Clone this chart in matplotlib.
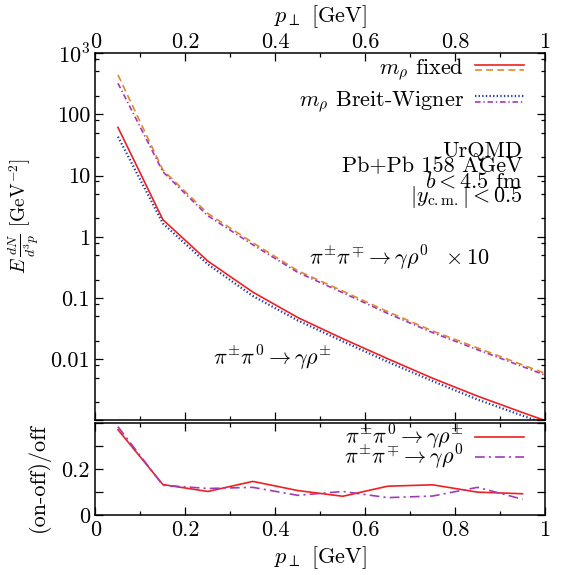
import numpy as np
import matplotlib
matplotlib.use("Agg")
import matplotlib.pyplot as plt
from matplotlib.ticker import FixedLocator, FuncFormatter, NullFormatter
from matplotlib.legend_handler import HandlerBase
from matplotlib.lines import Line2D

# ------------------------------
# data
# ------------------------------
pt = [0.05, 0.15, 0.25, 0.35, 0.45, 0.55, 0.65, 0.75, 0.85, 0.95, 1.05]

# pi+- pi0 -> gamma rho+-
chg_fixed = [61, 1.9, 0.40, 0.125, 0.048, 0.0217, 0.0102, 0.0049, 0.0025, 0.00135, 0.00074]
chg_bw = [43, 1.65, 0.355, 0.108, 0.043, 0.0196, 0.0091, 0.0044, 0.0022, 0.0012, 0.00066]

# pi+- pi-+ -> gamma rho0  (x10)
neu_fixed = [439, 12.3, 2.4, 0.80, 0.279, 0.130, 0.060, 0.029, 0.0153, 0.0081, 0.0043]
neu_bw = [321, 11.5, 2.2, 0.74, 0.262, 0.122, 0.056, 0.0272, 0.0143, 0.0076, 0.0040]

# ratio panel
pt_r = [0.05, 0.15, 0.25, 0.35, 0.45, 0.55, 0.65, 0.75, 0.85, 0.95]
ratio_chg = [0.373, 0.133, 0.103, 0.147, 0.107, 0.082, 0.126, 0.132, 0.100, 0.093]
ratio_neu = [0.386, 0.130, 0.116, 0.121, 0.086, 0.103, 0.076, 0.083, 0.121, 0.069]

y_ticks = [1e-3, 1e-2, 1e-1, 1, 10, 100, 1e3]
y_labels = ["", "0.01", "0.1", "1", "10", "100", "$10^3$"]

plt.rcParams["font.family"] = "serif"
plt.rcParams["font.serif"] = ["cmr10"]
plt.rcParams["mathtext.fontset"] = "cm"
plt.rcParams["axes.unicode_minus"] = False
plt.rcParams["axes.formatter.use_mathtext"] = True
plt.rcParams["lines.scale_dashes"] = False

RED = "#ee2020"
ORANGE = "#e38a2a"
BLUE = "#2a3aa8"
PURPLE = "#a23ab8"
FS = 16


class PairHandler(HandlerBase):
    # two sample lines stacked closely, like the gnuplot key
    def __init__(self, offsets):
        super().__init__()
        self.offsets = offsets

    def create_artists(self, legend, orig_handle, xdescent, ydescent,
                       width, height, fontsize, trans):
        arts = []
        y0 = height / 2 - ydescent
        for h, dy in zip(orig_handle, self.offsets):
            ln = Line2D([0, 1], [0, 1])
            ln.update_from(h)
            ln.set_data([-xdescent, width - xdescent], [y0 + dy * height] * 2)
            ln.set_transform(trans)
            arts.append(ln)
        return arts


fig = plt.figure(figsize=(5.64, 5.75), dpi=100)
ax = fig.add_axes([0.1693, 0.2687, 0.797, 0.6391])
axr = fig.add_axes([0.1693, 0.1043, 0.797, 0.1592])

# ==============================
# top panel: spectra
# ==============================
l_cf, = ax.plot(pt, chg_fixed, color=RED, lw=1.2, ls="-")
l_cb, = ax.plot(pt, chg_bw, color=BLUE, lw=1.6, ls=(0, (1, 1.6)))
l_nf, = ax.plot(pt, neu_fixed, color=ORANGE, lw=1.2, ls=(0, (5, 3)))
l_nb, = ax.plot(pt, neu_bw, color=PURPLE, lw=1.2, ls=(0, (4, 2, 1, 2)))

ax.set_yscale("log")
ax.set_xlim(0, 1)
ax.set_ylim(1e-3, 1e3)
ax.yaxis.set_major_locator(FixedLocator(y_ticks))
ax.yaxis.set_major_formatter(FuncFormatter(lambda v, p: y_labels[y_ticks.index(v)] if v in y_ticks else ""))
ax.yaxis.set_minor_locator(FixedLocator([m * 10.0 ** k for k in range(-3, 3) for m in (2, 5, 8)]))
ax.yaxis.set_minor_formatter(NullFormatter())
ax.xaxis.set_major_locator(FixedLocator([0, 0.2, 0.4, 0.6, 0.8, 1.0]))
ax.xaxis.set_minor_locator(FixedLocator([0.1, 0.3, 0.5, 0.7, 0.9]))
ax.xaxis.set_major_formatter(FuncFormatter(lambda v, p: "%g" % v))
ax.tick_params(which="both", direction="in", top=True, right=True,
               labeltop=True, labelbottom=False, labelsize=FS, width=0.9)
ax.tick_params(which="major", length=6, pad=4)
ax.tick_params(axis="x", which="major", pad=1)
ax.tick_params(which="minor", length=3)
ax.xaxis.set_label_position("top")
ax.set_xlabel(r"$p_\perp$ [GeV]", fontsize=FS, labelpad=7)
ax.set_ylabel(r"$E\,\frac{dN}{d^3p}$ [GeV$^{-2}$]", fontsize=14)
ax.yaxis.set_label_coords(-0.12, 0.556)

leg = ax.legend([(l_cf, l_nf), (l_cb, l_nb)],
                [r"$m_\rho$ fixed", r"$m_\rho$ Breit-Wigner"],
                handler_map={tuple: PairHandler((0.08, -0.28))},
                loc="upper right", bbox_to_anchor=(0.953, 0.99),
                frameon=False, markerfirst=False, fontsize=FS,
                handlelength=2.2, handletextpad=0.5, labelspacing=0.3,
                borderpad=0, borderaxespad=0)

ax.text(0.95, 0.734, "UrQMD", transform=ax.transAxes, ha="right", va="center", fontsize=FS)
ax.text(0.95, 0.692, "Pb+Pb 158 AGeV", transform=ax.transAxes, ha="right", va="center", fontsize=FS)
ax.text(0.95, 0.651, r"$b<4.5$ fm", transform=ax.transAxes, ha="right", va="center", fontsize=FS)
ax.text(0.95, 0.608, r"$|y_{\rm c.m.}|<0.5$", transform=ax.transAxes, ha="right", va="center", fontsize=FS)
ax.text(0.878, 0.442, r"$\pi^{\pm}\pi^{\mp}\rightarrow\gamma\rho^0\ \ \times 10$",
        transform=ax.transAxes, ha="right", va="center", fontsize=FS)
ax.text(0.261, 0.170, r"$\pi^{\pm}\pi^{0}\rightarrow\gamma\rho^{\pm}$",
        transform=ax.transAxes, ha="left", va="center", fontsize=FS)

# ==============================
# bottom panel: (on-off)/off
# ==============================
r1, = axr.plot(pt_r, ratio_chg, color=RED, lw=1.2, ls="-")
r2, = axr.plot(pt_r, ratio_neu, color=PURPLE, lw=1.2, ls=(0, (7, 3, 1.5, 3)))
axr.set_xlim(0, 1)
axr.set_ylim(0, 0.4)
axr.yaxis.set_major_locator(FixedLocator([0, 0.1, 0.2, 0.3, 0.4]))
axr.yaxis.set_major_formatter(FuncFormatter(lambda v, p: {0: "0", 2: "0.2"}.get(int(round(v * 10)), "")))
axr.xaxis.set_major_locator(FixedLocator([0, 0.2, 0.4, 0.6, 0.8, 1.0]))
axr.xaxis.set_minor_locator(FixedLocator([0.1, 0.3, 0.5, 0.7, 0.9]))
axr.xaxis.set_major_formatter(FuncFormatter(lambda v, p: "%g" % v))
axr.tick_params(which="both", direction="in", top=True, right=True, labelsize=FS, width=0.9)
axr.tick_params(which="major", length=6, pad=4)
axr.tick_params(which="minor", length=3)
axr.set_xlabel(r"$p_\perp$ [GeV]", fontsize=FS, labelpad=3)
axr.set_ylabel("(on-off)/off", fontsize=FS)
axr.yaxis.set_label_coords(-0.101, 0.41)
axr.legend([r1, r2],
           [r"$\pi^{\pm}\pi^{0}\rightarrow\gamma\rho^{\pm}$",
            r"$\pi^{\pm}\pi^{\mp}\rightarrow\gamma\rho^{0}$"],
           loc="upper right", bbox_to_anchor=(0.953, 1.0),
           frameon=False, markerfirst=False, fontsize=FS,
           handlelength=2.2, handletextpad=0.5, labelspacing=-0.42,
           borderpad=0, borderaxespad=0)

for a in (ax, axr):
    for s in a.spines.values():
        s.set_linewidth(1.1)

fig.savefig("out.png", dpi=100)
